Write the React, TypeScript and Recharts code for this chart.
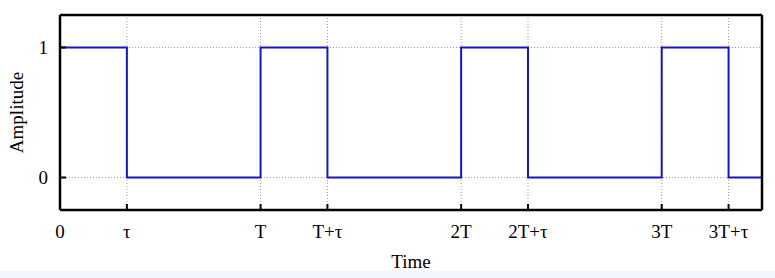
import React from 'react';
import { LineChart, Line, XAxis, YAxis, CartesianGrid } from 'recharts';

// switching instants in units of tau (T = 3 tau) and the level held after each
const edgeTimes = [0, 1, 3, 4, 6, 7, 9, 10, 10.5];
const levels = [1, 0, 1, 0, 1, 0, 1, 0, 0];

const xTicks = [0, 1, 3, 4, 6, 7, 9, 10];
const xTickLabels = ['0', 'τ', 'T', 'T+τ', '2T', '2T+τ', '3T', '3T+τ'];
const yTicks = [0, 1];

const data = edgeTimes.map((t, i) => ({ t, amp: levels[i] }));

const FONT = '"Liberation Serif", "Times New Roman", serif';
const BLUE = '#1616bb';
const FS = 19;

const XTick = (props: any) => {
  const { x, y, payload } = props;
  const i = xTicks.indexOf(payload.value);
  return (
    <text x={x} y={y} dy="0.71em" textAnchor="middle" fontFamily={FONT} fontSize={FS} fill="#000">
      {xTickLabels[i] ?? ''}
    </text>
  );
};

const YTick = (props: any) => {
  const { x, y, payload } = props;
  return (
    <text x={x} y={y} dy="0.35em" textAnchor="end" fontFamily={FONT} fontSize={FS} fill="#000">
      {payload.value}
    </text>
  );
};

const AmplitudeLabel = (props: any) => {
  const vb = props.viewBox || { x: 0, y: 0, height: 0 };
  const cx = vb.x + 16;
  const cy = vb.y + vb.height / 2;
  return (
    <text
      x={cx}
      y={cy}
      transform={`rotate(-90, ${cx}, ${cy})`}
      textAnchor="middle"
      dominantBaseline="central"
      fontFamily={FONT}
      fontSize={FS}
      fill="#000"
    >
      Amplitude
    </text>
  );
};

const TimeLabel = (props: any) => {
  const vb = props.viewBox || { x: 0, y: 0, width: 0, height: 0 };
  return (
    <text x={vb.x + vb.width / 2} y={vb.y + vb.height - 10} textAnchor="middle" fontFamily={FONT} fontSize={FS} fill="#000">
      Time
    </text>
  );
};

export default function App() {
  const axisLine = { stroke: '#000', strokeWidth: 2.5 };
  const tickLine = { stroke: '#000', strokeWidth: 2 };
  return (
    <div style={{ position: 'fixed', left: 0, top: 0, width: 775, height: 278, background: '#fff' }}>
      <div style={{ position: 'absolute', left: 0, top: 271, width: 775, height: 7, background: '#f0f6fc' }} />
      <div style={{ position: 'absolute', left: 0, top: 0 }}>
        <LineChart width={775} height={278} data={data} margin={{ top: 14, right: 12, left: 0, bottom: 0 }}>
          <CartesianGrid stroke="#999" strokeDasharray="1 2" strokeWidth={1} xAxisId="bottom" yAxisId="left" />
          <XAxis
            xAxisId="bottom"
            dataKey="t"
            type="number"
            domain={[0, 10.5]}
            ticks={xTicks}
            interval={0}
            height={68}
            tickSize={-6}
            tickMargin={21}
            axisLine={axisLine}
            tickLine={tickLine}
            tick={<XTick />}
            label={<TimeLabel />}
          />
          <XAxis
            xAxisId="top"
            orientation="top"
            dataKey="t"
            type="number"
            domain={[0, 10.5]}
            ticks={xTicks}
            interval={0}
            height={1}
            tickSize={-6}
            tick={false}
            axisLine={axisLine}
            tickLine={tickLine}
          />
          <YAxis
            yAxisId="left"
            type="number"
            domain={[-0.25, 1.25]}
            ticks={yTicks}
            interval={0}
            width={60}
            tickSize={-6}
            tickMargin={18}
            axisLine={axisLine}
            tickLine={tickLine}
            tick={<YTick />}
            label={<AmplitudeLabel />}
          />
          <YAxis
            yAxisId="right"
            orientation="right"
            type="number"
            domain={[-0.25, 1.25]}
            ticks={yTicks}
            interval={0}
            width={1}
            tickSize={-6}
            tick={false}
            axisLine={axisLine}
            tickLine={tickLine}
          />
          <Line
            xAxisId="top"
            yAxisId="right"
            dataKey="amp"
            stroke="none"
            dot={false}
            activeDot={false}
            isAnimationActive={false}
          />
          <Line
            xAxisId="bottom"
            yAxisId="left"
            type="stepAfter"
            dataKey="amp"
            stroke={BLUE}
            strokeWidth={2}
            dot={false}
            isAnimationActive={false}
          />
        </LineChart>
      </div>
    </div>
  );
}
